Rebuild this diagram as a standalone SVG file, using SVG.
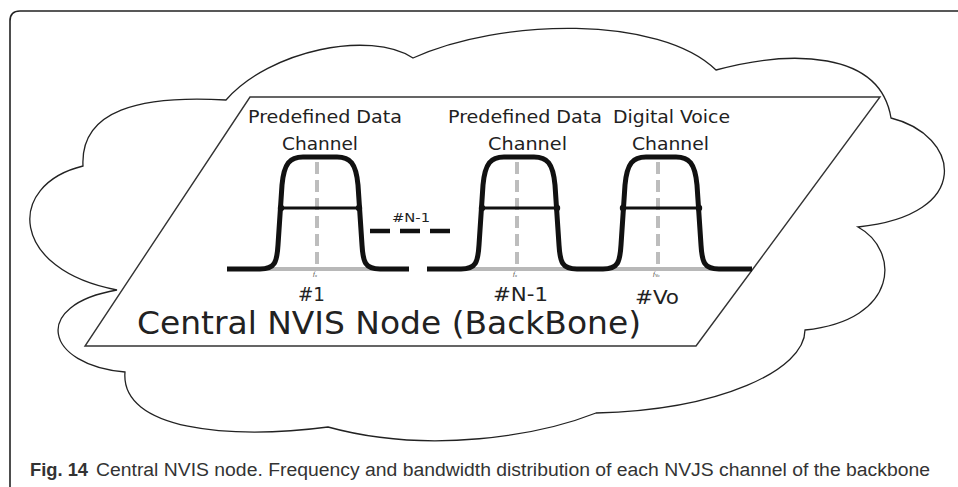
<svg xmlns="http://www.w3.org/2000/svg" width="958" height="487" viewBox="0 0 958 487">
<style>
.frame{fill:none;stroke:#222;stroke-width:1.6}
.cloud{fill:#fff;stroke:#222;stroke-width:1.3}
.plane{fill:#fff;stroke:#333;stroke-width:1.4}
.base{stroke:#b8b8b8;stroke-width:4;fill:none}
.center{stroke:#bdbdbd;stroke-width:4;stroke-dasharray:12 6;fill:none}
.bump{fill:none;stroke:#111;stroke-width:5;stroke-linejoin:round;stroke-linecap:butt}
.bw{stroke:#111;stroke-width:3}
.dot{fill:#111}
.lbl{font-family:"DejaVu Sans Condensed","DejaVu Sans",sans-serif;fill:#222}
.f{font-family:"Liberation Serif",serif;font-style:italic;font-size:7px;fill:#444}
.cap{font-family:"Liberation Sans",sans-serif;font-size:18px;fill:#333}
</style>
<rect width="958" height="487" fill="#fff"/>
<path class="frame" d="M10,487 V21 Q10,11 20,11 H958"/>
<g id="cloud">
<path class="cloud" d="M226,100 C270,50 370,30 413,58 C500,18 660,15 716,70 C790,50 880,50 891,118 C960,135 975,215 858,227 C900,250 900,320 805,330 C805,370 720,410 596,413 C540,435 430,455 328,427 C230,440 120,430 125,372 C45,365 30,305 117,290 C10,270 5,185 83,166 C80,110 140,95 226,100 Z"/>
</g>
<g id="plane">
<path class="plane" d="M250,97 L880,97 L696,346 L85,346 Z"/>
<text class="lbl" x="137" y="334" font-size="32" textLength="504" lengthAdjust="spacingAndGlyphs">Central NVIS Node (BackBone)</text>
</g>
<g id="baseline">
<line class="base" x1="227" y1="269" x2="409" y2="269"/>
<line class="base" x1="427" y1="269" x2="752" y2="269"/>
</g>
<g id="channel1">
<line class="center" x1="317" y1="162" x2="317" y2="266"/>
<path class="bump" d="M227,269 H260 C275,269 277,262 278,245 L282,185 C284,163 290,157 303,157 H337 C350,157 356,163 358,185 L362,245 C363,262 365,269 380,269 H409"/>
<line class="bw" x1="281" y1="208" x2="359" y2="208"/>
<circle class="dot" cx="281" cy="208" r="3.2"/><circle class="dot" cx="359" cy="208" r="3.2"/>
<text class="lbl" x="248" y="123" font-size="18" textLength="154" lengthAdjust="spacingAndGlyphs">Predefined Data</text>
<text class="lbl" x="282" y="150" font-size="18" textLength="76" lengthAdjust="spacingAndGlyphs">Channel</text>
<text class="f" x="313" y="276">f<tspan font-size="4.5" dy="1">x</tspan></text>
<text class="lbl" x="298" y="301" font-size="20" textLength="27" lengthAdjust="spacingAndGlyphs">#1</text>
</g>
<g id="channel2">
<line class="center" x1="517" y1="162" x2="517" y2="266"/>
<path class="bump" d="M427,269 H461 C476,269 478,262 479,245 L483,185 C485,163 491,157 504,157 H534 C547,157 553,163 555,185 L559,245 C560,262 562,269 577,269 H603"/>
<line class="bw" x1="482" y1="208" x2="557" y2="208"/>
<circle class="dot" cx="482" cy="208" r="3.2"/><circle class="dot" cx="557" cy="208" r="3.2"/>
<text class="lbl" x="448" y="123" font-size="18" textLength="154" lengthAdjust="spacingAndGlyphs">Predefined Data</text>
<text class="lbl" x="488" y="150" font-size="18" textLength="79" lengthAdjust="spacingAndGlyphs">Channel</text>
<text class="f" x="513" y="276">f<tspan font-size="4.5" dy="1">x</tspan></text>
<text class="lbl" x="493" y="301" font-size="20" textLength="55" lengthAdjust="spacingAndGlyphs">#N-1</text>
</g>
<g id="channel3">
<line class="center" x1="658" y1="162" x2="658" y2="266"/>
<path class="bump" d="M603,269 C618,269 620,262 621,245 L625,185 C627,163 633,157 646,157 H676 C689,157 695,163 697,185 L701,245 C702,262 704,269 719,269 H752"/>
<line class="bw" x1="623" y1="208" x2="699" y2="208"/>
<circle class="dot" cx="623" cy="208" r="3.2"/><circle class="dot" cx="699" cy="208" r="3.2"/>
<text class="lbl" x="613" y="123" font-size="18" textLength="117" lengthAdjust="spacingAndGlyphs">Digital Voice</text>
<text class="lbl" x="632" y="150" font-size="18" textLength="77" lengthAdjust="spacingAndGlyphs">Channel</text>
<text class="f" x="653" y="276">f<tspan font-size="4.5" dy="1">Vo</tspan></text>
<text class="lbl" x="635" y="304" font-size="20" textLength="44" lengthAdjust="spacingAndGlyphs">#Vo</text>
</g>
<g id="connectors">
<line x1="370" y1="231" x2="450" y2="231" stroke="#111" stroke-width="4.5" stroke-dasharray="20 10"/>
<text class="lbl" x="392" y="222" font-size="13" textLength="38" lengthAdjust="spacingAndGlyphs">#N-1</text>
</g>
<g id="caption">
<text class="cap" x="30" y="476" font-weight="bold" fill="#111" textLength="58" lengthAdjust="spacingAndGlyphs">Fig. 14</text>
<text class="cap" x="96" y="476" textLength="834" lengthAdjust="spacingAndGlyphs">Central NVIS node. Frequency and bandwidth distribution of each NVJS channel of the backbone</text>
</g>
</svg>
